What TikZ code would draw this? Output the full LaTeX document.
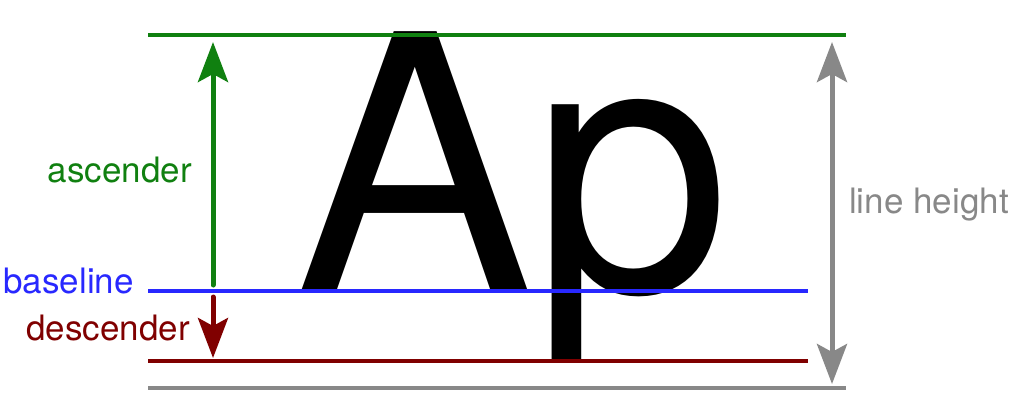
\documentclass[tikz,border=0pt]{standalone}
\usepackage{fontspec}
\setmainfont{TeX Gyre Heros}
\usetikzlibrary{arrows.meta}
\definecolor{cgreen}{RGB}{16,128,16}
\definecolor{cblue}{RGB}{40,40,255}
\definecolor{cred}{RGB}{128,0,0}
\definecolor{cgray}{RGB}{136,136,136}
\tikzset{
  hline/.style={line width=4pt},
  arr/.style={line width=5pt, -{Stealth[length=40pt,width=30pt,inset=8pt]}},
  darr/.style={line width=5pt, {Stealth[length=40pt,width=30pt,inset=8pt]}-{Stealth[length=40pt,width=30pt,inset=8pt]}},
  lbl/.style={inner sep=0pt, font=\fontsize{35}{42}\selectfont},
}
\begin{document}
\begin{tikzpicture}[x=1pt,y=-1pt]
\useasboundingbox (0,0) rectangle (1019,405);
% big glyphs, cut at the descender line
\begin{scope}
\clip (0,0) rectangle (1019,361);
\node[inner sep=0pt, anchor=base west, font=\fontsize{356.5}{400}\selectfont] (ap) at (295,291) {Ap};
\end{scope}
% reference lines
\coordinate (gL) at (148,35);  \coordinate (gR) at (846,35);
\coordinate (bL) at (148,291); \coordinate (bR) at (808,291);
\coordinate (rL) at (148,361); \coordinate (rR) at (808,361);
\coordinate (yL) at (148,388); \coordinate (yR) at (846,388);
\draw[hline, cgreen] (gL) -- (gR);
\draw[hline, cblue] (bL) -- (bR);
\draw[hline, cred] (rL) -- (rR);
\draw[hline, cgray] (yL) -- (yR);
% arrows
\coordinate (ascS) at (213,285); \coordinate (ascE) at (213,42);
\coordinate (desS) at (213,297); \coordinate (desE) at (213,358);
\coordinate (lhT) at (832,42); \coordinate (lhB) at (832,384);
\draw[arr, cgreen, line cap=round] (ascS) -- (ascE);
\draw[arr, cred, line cap=round] (desS) -- (desE);
\draw[darr, cgray] (lhT) -- (lhB);
% labels
\node[lbl, text=cgreen, anchor=east] (asc) at (192,170) {ascender};
\node[lbl, text=cblue, anchor=east] (base) at (134,281) {baseline};
\node[lbl, text=cred, anchor=east] (desc) at (190,328) {descender};
\node[lbl, text=cgray, anchor=west] (lh) at (849,205) {line height};
\end{tikzpicture}
\end{document}
